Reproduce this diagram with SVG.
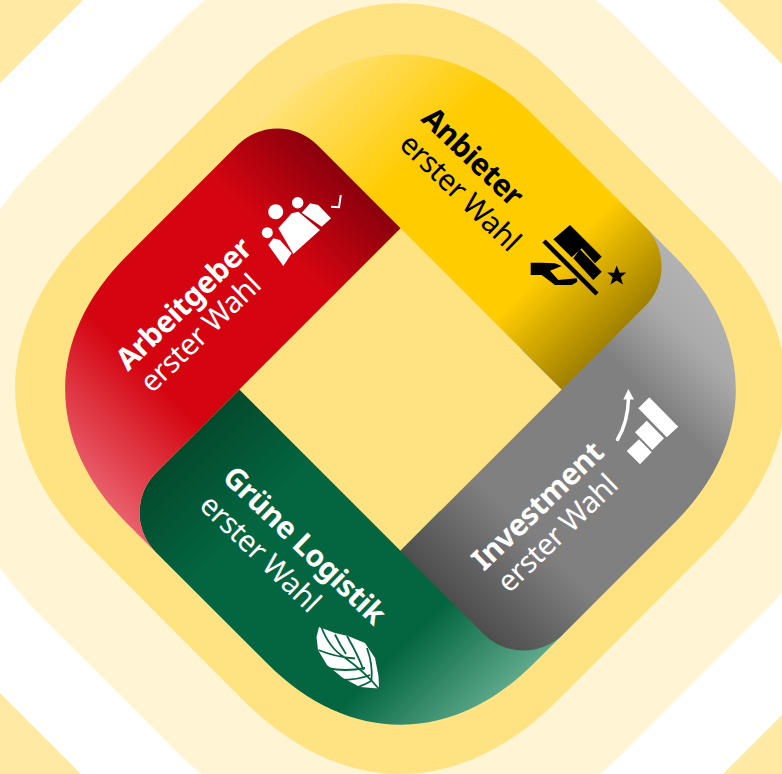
<svg xmlns="http://www.w3.org/2000/svg" width="782" height="774" viewBox="0 0 782 774">
<style>
.t{font-family:"Noto Sans","Open Sans","Liberation Sans",sans-serif}
.b{font-weight:700;font-size:30px;letter-spacing:-.5px}
.l{font-weight:400;font-size:29.500px;letter-spacing:-.5px}
.w{fill:#fff}
.k{fill:#000}
.v{fill:none;stroke:#04663f;stroke-width:1.800}
</style>
<defs>
<linearGradient id="gy" gradientUnits="userSpaceOnUse" x1="-288" y1="0" x2="114" y2="0"><stop offset="0" stop-color="#ffe27a"/><stop offset=".34" stop-color="#fc0"/><stop offset=".76" stop-color="#fc0"/><stop offset="1" stop-color="#a08000"/></linearGradient>
<linearGradient id="gr" gradientUnits="userSpaceOnUse" x1="0" y1="-114" x2="0" y2="288"><stop offset="0" stop-color="#8a000c"/><stop offset=".24" stop-color="#d40511"/><stop offset=".7" stop-color="#d40511"/><stop offset="1" stop-color="#e8606c"/></linearGradient>
<linearGradient id="gg" gradientUnits="userSpaceOnUse" x1="-114" y1="0" x2="288" y2="0"><stop offset="0" stop-color="#034a2d"/><stop offset=".26" stop-color="#046640"/><stop offset=".74" stop-color="#046640"/><stop offset="1" stop-color="#5fa98d"/></linearGradient>
<linearGradient id="gk" gradientUnits="userSpaceOnUse" x1="0" y1="-288" x2="0" y2="114"><stop offset="0" stop-color="#b2b2b2"/><stop offset=".12" stop-color="#aaa"/><stop offset=".29" stop-color="#808080"/><stop offset=".74" stop-color="#808080"/><stop offset="1" stop-color="#4d4d4d"/></linearGradient>
</defs>
<g id="background">
<rect width="782" height="774" fill="#fff"/>
<path d="M0 0H83L0 83ZM718 0H782V64ZM0 693L81 774H0ZM782 715V774H723Z" fill="#ffe9a3"/>
<rect x="-14.500" y="-26.500" width="830" height="830" rx="315" transform="rotate(45 400.500 388.500)" fill="#fff4d3"/>
<path transform="translate(400.500 388.500) rotate(45)" fill="#ffe282" d="M-110 -331.500H110C248 -331.500 331.500 -248 331.500 -110V110C331.500 248 248 331.500 110 331.500H-110C-248 331.500 -331.500 248 -331.500 110V-110C-331.500 -248 -248 -331.500 -110 -331.500Z"/>
</g>
<g transform="translate(400.500 389.500) rotate(45)">
<g id="band-green"><path fill="url(#gg)" d="M-114 114V232A56 56 0 0 0 -58 288H100C215 288 288 215 288 100V58H114V114Z"/></g>
<g id="band-grey"><path fill="url(#gk)" d="M114 114H232A56 56 0 0 0 288 58V-100C288 -215 215 -288 100 -288H58V-114H114Z"/></g>
<g id="band-yellow"><path fill="url(#gy)" d="M114 -114V-232A56 56 0 0 0 58 -288H-100C-215 -288 -288 -215 -288 -100V-58H-114V-114Z"/></g>
<g id="band-red"><path fill="url(#gr)" d="M-114 -114H-232A56 56 0 0 0 -288 -58V100C-288 215 -215 288 -100 288H-58A56 56 0 0 1 -114 232Z"/></g>
</g>
<g id="node-anbieter">
<text class="t b k" transform="translate(420 120) rotate(44)">Anbieter</text>
<text class="t l k" transform="translate(398 146) rotate(44)">erster Wahl</text>
<path class="k" d="M570 225L601.700 256.700 595 263.300 581.700 248.300 571.700 257.300 553.300 239.300Z"/>
<path class="k" d="M580 249.300L601.700 271.700 593.300 280 573.300 258.300Z"/>
<path d="M544 241L597 294" stroke="#000" stroke-width="4.500" fill="none"/>
<path class="k" d="M530.700 262.700H541.700L555 263.300 561.700 266 550 270.700 558.300 280 576.700 278.300 577.300 281.700 571.700 285H555L541.700 275H530.700Z"/>
<path class="k" d="M616.700 265.500L619.500 272.800 626.200 272.600 620.800 277.300 623 284.500 616.700 280.500 610.500 284.500 612.700 277.300 607.300 272.600 614 272.800Z"/>
</g>
<g id="node-arbeitgeber">
<text class="t b w" transform="translate(128 372) rotate(-44)">Arbeitgeber</text>
<text class="t l w" transform="translate(152 394) rotate(-44)">erster Wahl</text>
<circle class="w" cx="275.700" cy="211.700" r="7.500"/>
<circle class="w" cx="297.700" cy="202.700" r="5.700"/>
<circle class="w" cx="267.300" cy="232.700" r="5.500"/>
<path class="w" d="M278.300 228.300L291.700 213.300 298.300 211.700 320 230 293.300 254Z"/>
<path class="w" d="M268.300 245L273.300 238.300 280 240 291.700 253.300 283.300 266Z"/>
<path class="w" d="M301.700 212.700L310 203.300 318.300 205 331 218.300 321.700 226.700Z"/>
<path d="M340.800 195.200L339 207.300 331 206.700" fill="none" stroke="#fff" stroke-width="2"/>
</g>
<g id="node-gruene-logistik">
<text class="t b w" transform="translate(221 479) rotate(44)">Grüne Logistik</text>
<text class="t l w" transform="translate(198 507) rotate(44)">erster Wahl</text>
<path class="w" d="M319 627L335 633 348 636 365 643 375 658 378.500 676 379 688.500 360 687 343 678 327 665 318 650 316.500 637Z"/>
<path class="v" d="M321 626Q329 648 344 657Q365 672 379 689M318.500 650Q335 657 355 658.500M335 634.500Q340 645 346 654M347 636Q358 655 363.500 670M367 648Q373 665 371.500 680M327 668Q345 672 365 668M340 680Q358 680 370 675M358 687Q367 684 372 680"/>
</g>
<g id="node-investment">
<text class="t b w" transform="translate(484 572) rotate(-44)">Investment</text>
<text class="t l w" transform="translate(509 594) rotate(-44)">erster Wahl</text>
<path d="M617.500 439.500Q628 422 628.500 398" fill="none" stroke="#fff" stroke-width="3.500" stroke-linecap="round"/>
<path class="w" d="M628.300 389L634 399.500H623.300Z"/>
<path class="w" d="M649.300 397.300L678.300 426.700 666.700 437.300 638.300 408.300Z"/>
<path class="w" d="M646.700 420.700L664 438.300 652.300 450 635 432.300Z"/>
<path class="w" d="M639 439.300L651.700 452.300 640 464.300 626.700 451Z"/>
</g>
</svg>
